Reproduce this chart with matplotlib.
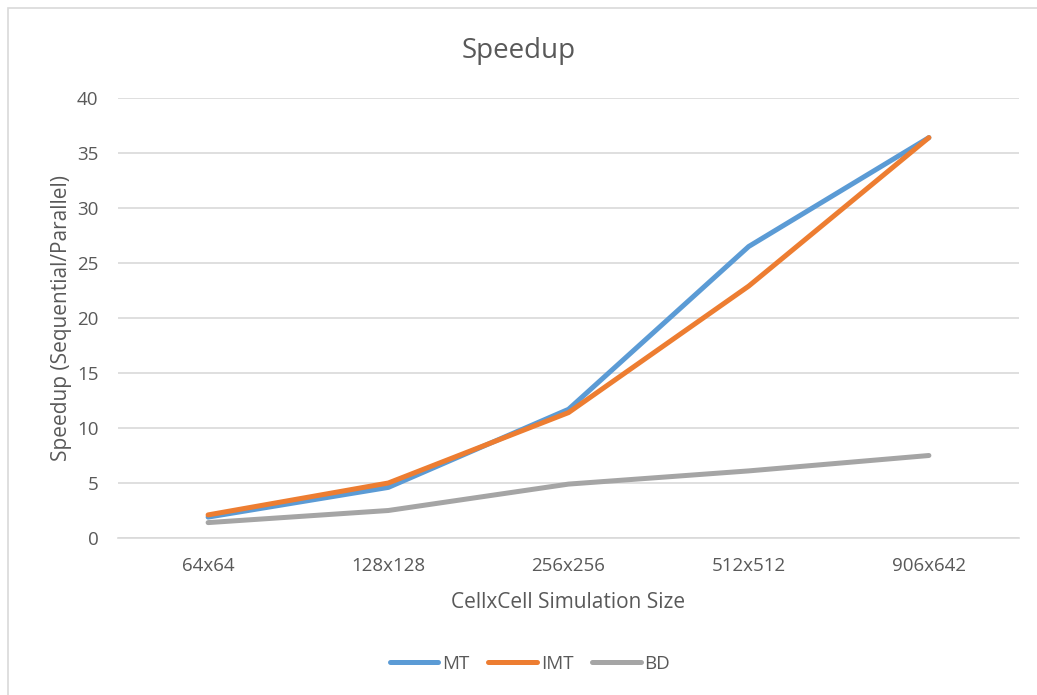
import matplotlib
matplotlib.use("Agg")
import matplotlib.pyplot as plt
from matplotlib.patches import Rectangle

plt.rcParams['font.family'] = ['Open Sans', 'DejaVu Sans']

sizes = ["64x64", "128x128", "256x256", "512x512", "906x642"]
mt = [1.9, 4.6, 11.7, 26.5, 36.4]
imt = [2.1, 5.0, 11.4, 22.9, 36.4]
bd = [1.4, 2.5, 4.9, 6.1, 7.5]

text_color = "#595959"
grid_color = "#D9D9D9"

fig = plt.figure(figsize=(10.37, 6.95), dpi=100)
fig.patches.append(Rectangle((8 / 1037, -0.01), 1.1, (695 - 8) / 695 + 0.01,
                             transform=fig.transFigure, fill=False,
                             edgecolor="#D9D9D9", linewidth=1.2))

ax = fig.add_axes([118 / 1037, (695 - 538) / 695, (1019 - 118) / 1037, (538 - 98) / 695])
x = list(range(len(sizes)))
ax.plot(x, mt, color="#5B9BD5", linewidth=3.6, solid_capstyle="round", label="MT", zorder=3)
ax.plot(x, imt, color="#ED7D31", linewidth=3.6, solid_capstyle="round", label="IMT", zorder=3)
ax.plot(x, bd, color="#A5A5A5", linewidth=3.6, solid_capstyle="round", label="BD", zorder=3)

ax.set_xlim(-0.5, 4.5)
ax.set_ylim(0, 40)
ax.set_yticks(range(0, 41, 5))
ax.set_xticks(x)
ax.set_xticklabels(sizes)
ax.grid(axis="y", color=grid_color, linewidth=1.2)
ax.set_axisbelow(True)
for s in ["left", "right", "top"]:
    ax.spines[s].set_visible(False)
ax.spines["bottom"].set_color(grid_color)
ax.spines["bottom"].set_linewidth(1.2)
ax.tick_params(axis="both", length=0, labelsize=13.5, colors=text_color)
ax.tick_params(axis="x", pad=14)
ax.tick_params(axis="y", pad=14)

ax.set_xlabel("CellxCell Simulation Size", fontsize=15, color=text_color, labelpad=12)
ax.set_ylabel("Speedup (Sequential/Parallel)", fontsize=15, color=text_color, labelpad=4)
fig.text(0.5, (695 - 51) / 695, "Speedup", ha="center", va="center",
         fontsize=20, color=text_color)

leg = fig.legend(loc="center", bbox_to_anchor=(530 / 1037, (695 - 664) / 695), ncol=3,
                 frameon=False, fontsize=13.5, handlelength=2.6, handletextpad=0.2,
                 columnspacing=1.0)
for t in leg.get_texts():
    t.set_color(text_color)

fig.savefig("out.png", dpi=100)
